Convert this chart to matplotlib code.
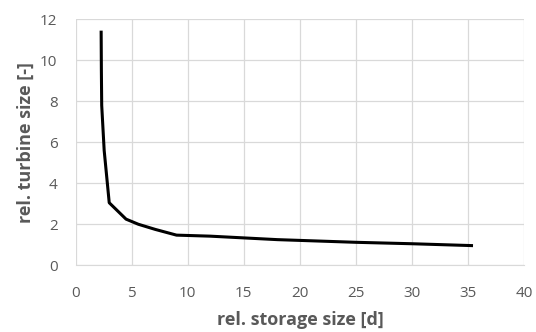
import matplotlib
matplotlib.use("Agg")
import matplotlib.pyplot as plt

# storage size [d] vs turbine size [-]
storage = [2.28, 2.30, 2.33, 2.55, 3.0, 4.5, 5.6, 7.1, 9.0, 12.0, 18.0, 25.0, 30.0, 35.3]
turbine = [11.37, 9.5, 7.8, 5.6, 3.05, 2.25, 2.0, 1.75, 1.47, 1.42, 1.25, 1.12, 1.05, 0.96]

plt.rcParams['font.family'] = ['Open Sans', 'DejaVu Sans']
grey = '#595959'

fig = plt.figure(figsize=(5.36, 3.32), dpi=100)
ax = fig.add_axes([0.141, 0.201, 0.837, 0.741])

ax.plot(storage, turbine, color='black', linewidth=2.2, solid_joinstyle='round')

ax.set_xlim(0, 40)
ax.set_ylim(0, 12)
ax.set_xticks(range(0, 41, 5))
ax.set_yticks(range(0, 13, 2))
ax.grid(True, color='#d9d9d9', linewidth=0.9)
ax.set_axisbelow(True)
for s in ax.spines.values():
    s.set_visible(False)
ax.spines['bottom'].set_visible(True)
ax.spines['bottom'].set_color('#d9d9d9')
ax.tick_params(length=0, colors=grey, labelsize=11)
ax.tick_params(axis='x', pad=15)
ax.tick_params(axis='y', pad=13)

ax.set_xlabel('rel. storage size [d]', fontsize=13, fontweight='bold', color=grey, labelpad=7)
ax.set_ylabel('rel. turbine size [-]', fontsize=13, fontweight='bold', color=grey, labelpad=4)

fig.savefig('out.png', dpi=100)
